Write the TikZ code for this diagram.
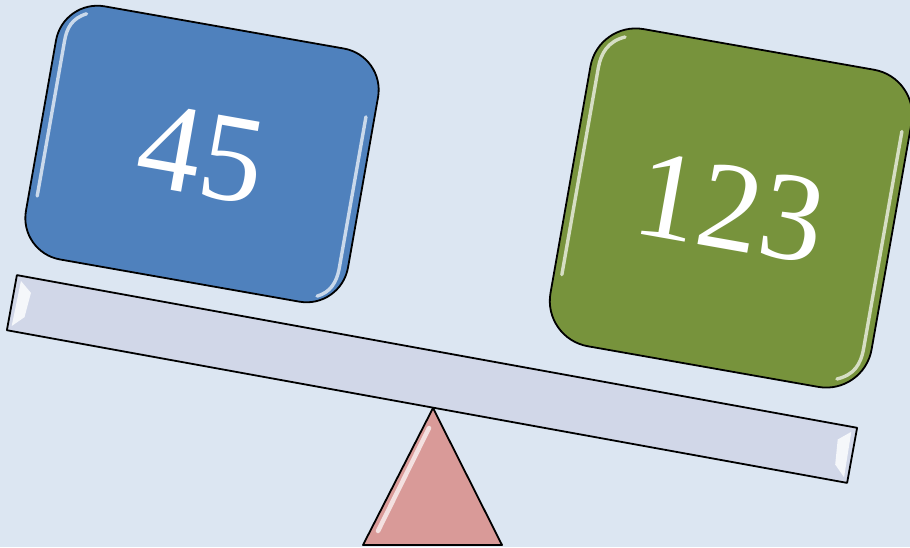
\documentclass[tikz,border=0pt]{standalone}
\usepackage{fontspec}
\setmainfont{Liberation Serif}
\usetikzlibrary{positioning}
\definecolor{pagebg}{HTML}{DCE6F2}
\definecolor{boxblue}{HTML}{4F81BD}
\definecolor{boxgreen}{HTML}{77933C}
\definecolor{plankgrey}{HTML}{D1D7E8}
\definecolor{pivotpink}{HTML}{D99A98}

\begin{document}
\begin{tikzpicture}[x=1pt, y=-1pt,
    outline/.style={draw=black, line width=1.8pt, line join=round},
    weight/.style={outline, text=white, inner sep=0pt, rotate=-10,
      font=\fontsize{126}{126}\selectfont},
    gloss/.style={white, line width=3.4pt, line cap=round, opacity=0.7}]
    % Background (fixes the page size too)
    \fill[pagebg] (0,0) rectangle (910,547);
    \useasboundingbox (0,0) rectangle (910,547);

    % Pivot triangle under the plank
    \coordinate (apex) at (433,408);
    \coordinate (baseL) at (363,545);
    \coordinate (baseR) at (502,545);
    \draw[outline, fill=pivotpink] (apex) -- (baseR) -- (baseL) -- cycle;
    \draw[gloss, line width=4.5pt, opacity=0.7] (429,428) -- (378,531);

    % Tilted plank
    \node[outline, fill=plankgrey, minimum width=854pt, minimum height=56pt,
      inner sep=0pt, rotate=-10.3] (plank) at (432,379) {};
    \begin{scope}[shift={(432,379)}, rotate=-10.3]
      \fill[white, opacity=0.8] (-422,-23) -- (-410,-13) -- (-412,12) -- (-423,23) -- cycle;
      \fill[white, opacity=0.8] (422,-23) -- (410,-13) -- (412,12) -- (423,23) -- cycle;
    \end{scope}

    % Left weight (blue)
    \node[weight, fill=boxblue, rounded corners=42pt, minimum width=327pt,
      minimum height=257pt] (small) at (202,154) {45};
    \begin{scope}[shift={(202,154)}, rotate=-10]
      \draw[gloss] (-138,-118) .. controls (-152,-111) and (-155,-100) .. (-155,-88) -- (-155,70);
      \draw[gloss] (155,-65) -- (155,88) .. controls (155,104) and (150,114) .. (138,120);
    \end{scope}

    % Right weight (green)
    \node[weight, fill=boxgreen, rounded corners=46pt, minimum width=326pt,
      minimum height=322pt] (large) at (731,208) {123};
    \begin{scope}[shift={(731,208)}, rotate=-10]
      \draw[gloss] (-134,-150) .. controls (-150,-143) and (-155,-130) .. (-155,-115) -- (-155,95);
      \draw[gloss] (155,-105) -- (155,115) .. controls (155,132) and (150,143) .. (134,150);
    \end{scope}
\end{tikzpicture}
\end{document}
